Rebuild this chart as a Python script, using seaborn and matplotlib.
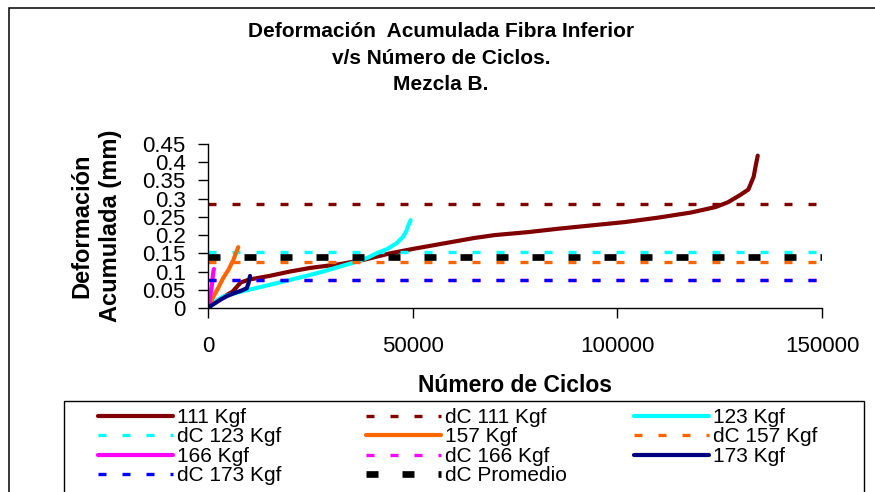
import matplotlib
matplotlib.use("Agg")
import matplotlib.pyplot as plt
from matplotlib.patches import Rectangle
import seaborn as sns

# ---- data ----
x_111 = [0, 1000, 3000, 6000, 8000, 10000, 15000, 20000, 25000, 32000, 38000, 44500, 50000,
         55000, 60000, 65000, 70000, 78000, 86000, 94000, 102000, 110000, 118000, 124000,
         127000, 130000, 132000, 133300, 133800, 134300]
y_111 = [0, 0.010, 0.025, 0.045, 0.070, 0.078, 0.088, 0.100, 0.110, 0.120, 0.132, 0.150, 0.162,
         0.172, 0.182, 0.192, 0.200, 0.208, 0.218, 0.227, 0.236, 0.248, 0.262, 0.277,
         0.290, 0.310, 0.325, 0.360, 0.390, 0.418]
x_123 = [0, 1000, 3700, 8000, 11900, 16000, 20000, 24000, 28100, 32000, 36300, 39000, 41200,
         44000, 46100, 47700, 48500, 49000, 49500]
y_123 = [0, 0.012, 0.031, 0.045, 0.055, 0.066, 0.077, 0.088, 0.100, 0.113, 0.127, 0.138, 0.150,
         0.163, 0.178, 0.196, 0.212, 0.228, 0.241]
x_157 = [0, 600, 1300, 2500, 3700, 5000, 6200, 6800, 7400]
y_157 = [0, 0.015, 0.031, 0.055, 0.082, 0.105, 0.132, 0.150, 0.167]
x_166 = [0, 300, 500, 800, 1000, 1200, 1350, 1450]
y_166 = [0, 0.015, 0.031, 0.050, 0.068, 0.090, 0.103, 0.107]
x_173 = [0, 1000, 2930, 4500, 6200, 8000, 9450, 9900, 10270]
y_173 = [0, 0.008, 0.022, 0.032, 0.040, 0.047, 0.054, 0.068, 0.088]

dc_111 = 0.286
dc_123 = 0.154
dc_157 = 0.126
dc_166 = 0.077
dc_173 = 0.077
dc_prom = 0.139

y_ticks = [0, 0.05, 0.1, 0.15, 0.2, 0.25, 0.3, 0.35, 0.4, 0.45]
y_ticklabels = ["0", "0.05", "0.1", "0.15", "0.2", "0.25", "0.3", "0.35", "0.4", "0.45"]
x_ticks = [0, 50000, 100000, 150000]
x_ticklabels = ["0", "50000", "100000", "150000"]

title_lines = ["Deformación  Acumulada Fibra Inferior", "v/s Número de Ciclos.", "Mezcla B."]
x_label = "Número de Ciclos"
y_label = "Deformación\nAcumulada (mm)"

# ---- style ----
sns.set_theme(style="white")
plt.rcParams["font.family"] = ["Liberation Sans", "DejaVu Sans"]

W, H = 875, 492
fig = plt.figure(figsize=(W / 100, H / 100), dpi=100)
fig.patch.set_facecolor("white")

# outer chart-area border (right / bottom edges are outside the picture)
fig.add_artist(Rectangle((9 / W, -0.2), 1.5, 1 - 8 / H + 0.2, transform=fig.transFigure,
                         fill=False, edgecolor="black", linewidth=1.1, clip_on=False))

ax = fig.add_axes([208 / W, 1 - 308 / H, 614 / W, 164 / H])
ax.set_facecolor("white")

LW = 3.0
dc_style = dict(linewidth=2.4, linestyle=(0, (2.4, 4.8)), dash_capstyle="butt")

series = [
    ("111 Kgf", x_111, y_111, "#800000", dc_111, "dC 111 Kgf"),
    ("123 Kgf", x_123, y_123, "#00FFFF", dc_123, "dC 123 Kgf"),
    ("157 Kgf", x_157, y_157, "#FF6600", dc_157, "dC 157 Kgf"),
    ("166 Kgf", x_166, y_166, "#FF00FF", dc_166, "dC 166 Kgf"),
    ("173 Kgf", x_173, y_173, "#000080", dc_173, "dC 173 Kgf"),
]
dc_colors = {"dC 173 Kgf": "#0000FF"}

handles = {}
for name, xs, ys, col, dcv, dcname in series:
    sns.lineplot(x=xs, y=ys, ax=ax, color=col, linewidth=LW, sort=False,
                 estimator=None, label=name, legend=False)
    handles[name] = ax.lines[-1]
    h = ax.axhline(dcv, color=dc_colors.get(dcname, col), label=dcname, **dc_style)
    handles[dcname] = h
hp = ax.axhline(dc_prom, color="black", linewidth=4.8, linestyle=(0, (1.8, 3.6)),
                dash_capstyle="butt", label="dC Promedio")
handles["dC Promedio"] = hp

ax.set_xlim(0, 150000)
ax.set_ylim(0, 0.45)
ax.set_xticks(x_ticks)
ax.set_xticklabels(x_ticklabels)
ax.set_yticks(y_ticks)
ax.set_yticklabels(y_ticklabels)
ax.set_xlabel("")
ax.set_ylabel("")
sns.despine(ax=ax)
for s in ("left", "bottom"):
    ax.spines[s].set_color("black")
    ax.spines[s].set_linewidth(1.0)
ax.tick_params(axis="both", direction="out", length=7, width=1, color="black",
               labelsize=16, labelcolor="black", left=True, bottom=True)
ax.tick_params(axis="x", pad=13)
ax.tick_params(axis="y", pad=9)

# titles and axis labels
title_y = [31.7, 58.3, 85.0]
for t, yy in zip(title_lines, title_y):
    fig.text(441 / W, 1 - yy / H, t, ha="center", va="center", fontsize=15,
             fontweight="bold", color="black")
fig.text(515 / W, 1 - 386 / H, x_label, ha="center", va="center", fontsize=16.5,
         fontweight="bold", color="black")
fig.text(96 / W, 1 - 226 / H, y_label, ha="center", va="center", rotation=90,
         fontsize=17, fontweight="bold", linespacing=1.3, multialignment="center",
         color="black")

# legend frame
fig.add_artist(Rectangle((64 / W, -0.2), 800 / W, 1 - 401 / H + 0.2, transform=fig.transFigure,
                         fill=False, edgecolor="black", linewidth=1.0, clip_on=False))

columns = [
    ["111 Kgf", "dC 123 Kgf", "166 Kgf", "dC 173 Kgf"],
    ["dC 111 Kgf", "157 Kgf", "dC 166 Kgf", "dC Promedio"],
    ["123 Kgf", "dC 157 Kgf", "173 Kgf"],
]
col_x = [98, 366, 634]
for labs, cx in zip(columns, col_x):
    fig.legend([handles[l] for l in labs], labs, loc="upper left",
               bbox_to_anchor=(cx / W, 1 - 408 / H), bbox_transform=fig.transFigure,
               frameon=False, fontsize=15, handlelength=3.6, handletextpad=0.2,
               borderpad=0, borderaxespad=0, labelspacing=0.02, labelcolor="black")

fig.savefig("out.png", dpi=100, facecolor="white")
